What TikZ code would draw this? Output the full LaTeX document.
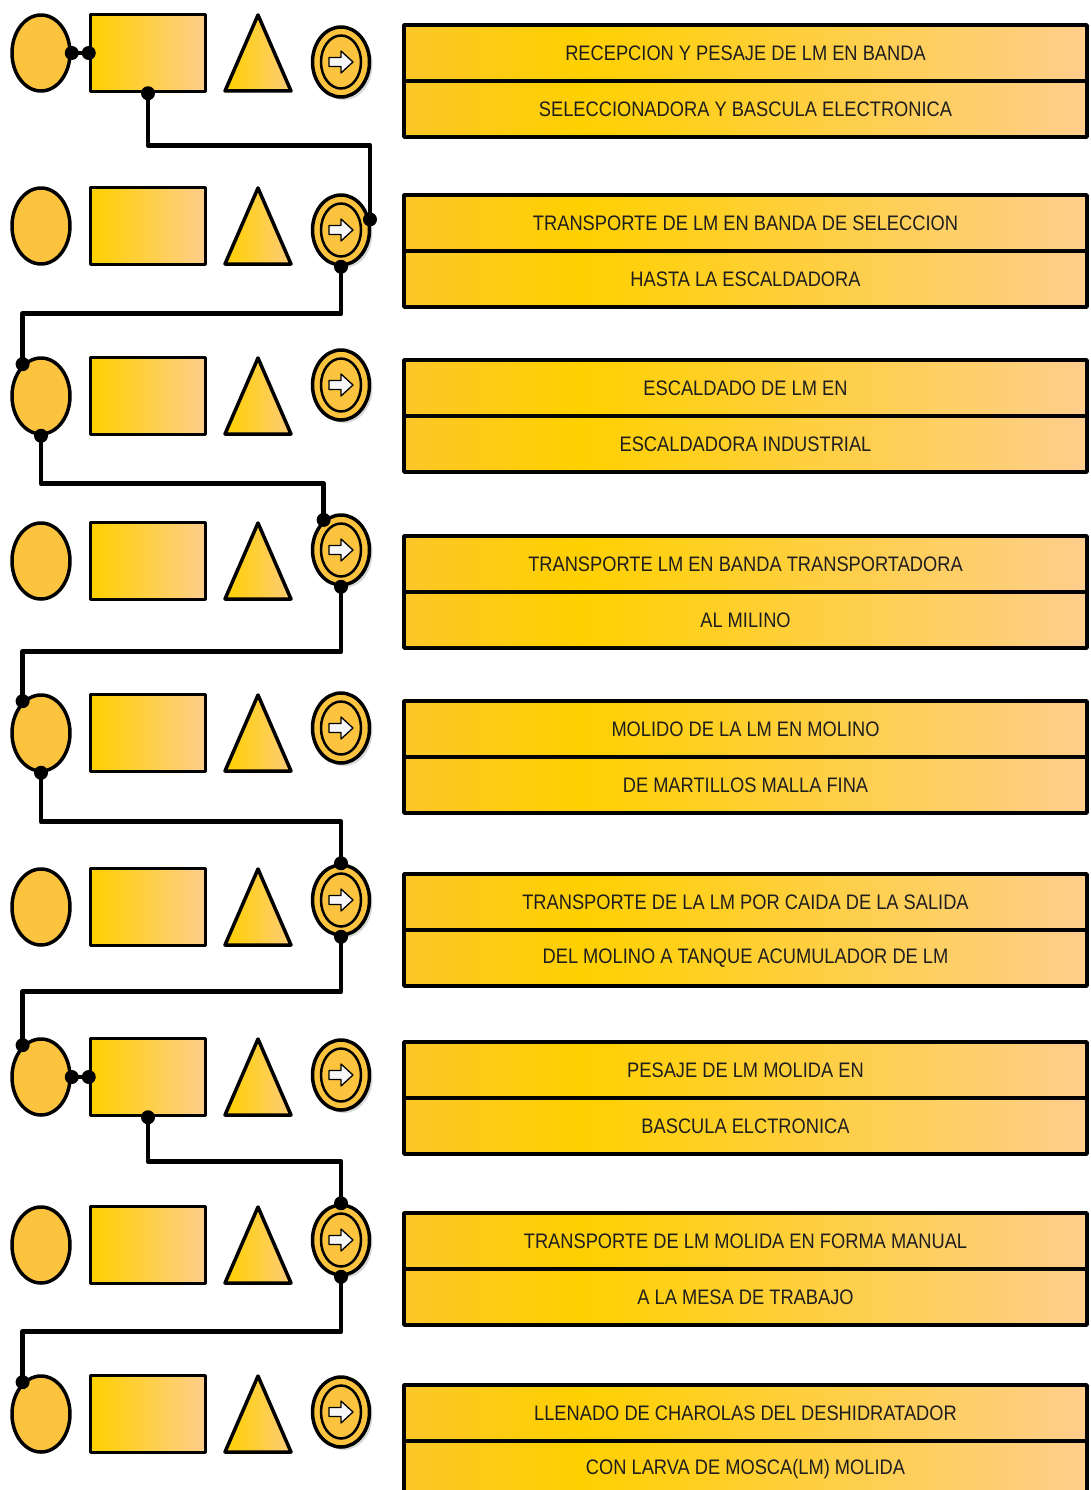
\documentclass[tikz,border=0pt]{standalone}
\usepackage{fontspec}
\setmainfont[FakeStretch=0.87]{Liberation Sans}
\usetikzlibrary{shapes.geometric,shadows,calc}
\definecolor{oro}{RGB}{253,198,40}
\definecolor{orob}{RGB}{255,208,0}
\definecolor{durazno}{RGB}{254,206,140}
\definecolor{circo}{RGB}{252,196,62}
\definecolor{tinta}{RGB}{30,30,30}
\pgfdeclarehorizontalshading{franja}{100bp}{color(0bp)=(oro); color(25bp)=(oro); color(38bp)=(orob); color(75bp)=(durazno); color(100bp)=(durazno)}

\begin{document}
\begin{tikzpicture}[x=1pt, y=-1pt, line join=round, line cap=round,
	circulo/.style={ellipse, draw, line width=3.5pt, fill=circo, minimum width=58pt, minimum height=76pt, inner sep=0pt},
	rect/.style={rectangle, draw, line width=3.5pt, left color=orob, right color=durazno, minimum width=115pt, minimum height=77pt, inner sep=0pt},
	tri/.style={draw, line width=3.5pt, left color=orob, right color=durazno!80!oro},
	flecha/.style={ellipse, draw, line width=3.5pt, fill=circo, minimum width=57pt, minimum height=70pt, inner sep=0pt, drop shadow={opacity=0.3, shadow xshift=3pt, shadow yshift=-3pt}},
	arw/.style={draw, fill=white!94!gray, line width=1.3pt},
	caja/.style={rectangle, draw, line width=3.5pt, shading=franja, minimum width=683pt, minimum height=56pt, inner sep=0pt, text=tinta, font=\fontsize{21}{21}\selectfont},
	linea/.style={line width=4.8pt}]
	\useasboundingbox (0,0) rectangle (1090,1490);
	% filas del diagrama
	\foreach \i/\y/\ya/\yt/\ta/\tb in {
		1/53/62/81/RECEPCION Y PESAJE DE LM EN BANDA/SELECCIONADORA Y BASCULA ELECTRONICA,
		2/226/230/251/TRANSPORTE DE LM EN BANDA DE SELECCION/HASTA LA ESCALDADORA,
		3/396/385/416/ESCALDADO DE LM EN/ESCALDADORA INDUSTRIAL,
		4/561/550/592/TRANSPORTE LM EN BANDA TRANSPORTADORA/AL MILINO,
		5/733/728/757/MOLIDO DE LA LM EN MOLINO/DE MARTILLOS MALLA FINA,
		6/907/900/930/TRANSPORTE DE LA LM POR CAIDA DE LA SALIDA/DEL MOLINO A TANQUE ACUMULADOR DE LM,
		7/1077/1075/1098/PESAJE DE LM MOLIDA EN/BASCULA ELCTRONICA,
		8/1245/1240/1269/TRANSPORTE DE LM MOLIDA EN FORMA MANUAL/A LA MESA DE TRABAJO,
		9/1414/1412/1441/LLENADO DE CHAROLAS DEL DESHIDRATADOR/CON LARVA DE MOSCA(LM) MOLIDA}{
		\node[circulo] (c\i) at (41,\y) {};
		\node[rect] (r\i) at (148,\y) {};
		\path[tri] (225,\y+38) -- (258,\y-38) -- (291,\y+38) -- cycle;
		\node[flecha] (a\i) at (341,\ya) {};
		\draw[line width=2.5pt] (a\i) ellipse (20 and 26.5);
		\draw[arw, shift={(a\i.center)}] (-12,4.5) -- (0,4.5) -- (0,11) -- (12,0) -- (0,-11) -- (0,-4.5) -- (-12,-4.5) -- cycle;
		\node[caja] (p\i) at (745.5,\yt-28) {\ta};
		\node[caja] (q\i) at (745.5,\yt+28) {\tb};
	}
	% uniones
	\foreach \a/\b in {c1.east/r1.west, c7.east/r7.west}{
		\draw[linea] (\a) -- (\b);
		\fill (\a) circle (7) (\b) circle (7);
	}
	\foreach \a/\b/\d in {r1.south/a2.20/52, a2.south/c3.120/47, c3.south/a4.120/48, a4.south/c5.120/65, c5.south/a6.north/49, a6.south/c7.120/55, r7.south/a8.north/44, a8.south/c9.120/55}{
		\draw[linea] (\a) -- ++(0,\d) -| (\b);
		\fill (\a) circle (7) (\b) circle (7);
	}
\end{tikzpicture}
\end{document}
